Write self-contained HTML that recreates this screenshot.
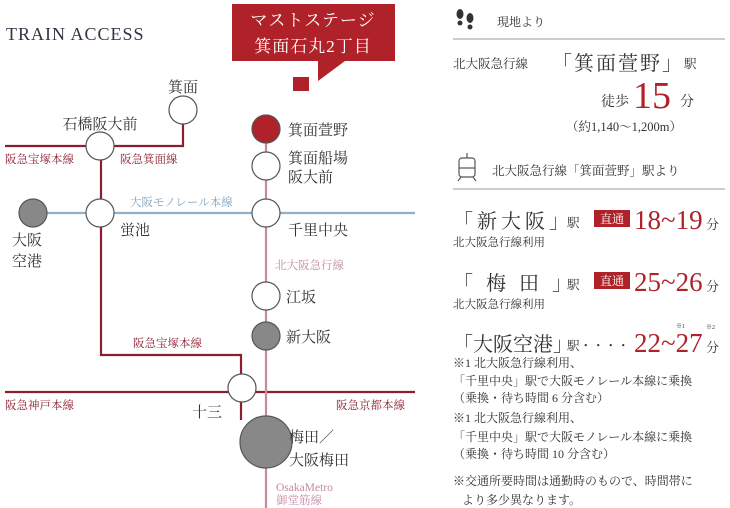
<!DOCTYPE html>
<html><head><meta charset="utf-8"><style>
html,body{margin:0;padding:0;background:#fff;}
svg{display:block;font-family:"Liberation Serif","Noto Serif CJK SC",serif;}
</style></head><body>
<svg width="730" height="508" viewBox="0 0 730 508" xmlns="http://www.w3.org/2000/svg">
<text x="6" y="40" font-size="18" fill="#334" letter-spacing="1">TRAIN ACCESS</text>
<!-- callout -->
<rect x="232" y="4" width="163" height="57" fill="#b0222a"/>
<polygon points="318,61 345,61 318,81" fill="#b0222a"/>
<rect x="293" y="77" width="16" height="14" fill="#b0222a"/>
<text x="313" y="26" font-size="17" fill="#fff" text-anchor="middle" letter-spacing="1">マストステージ</text>
<text x="313" y="52" font-size="17" fill="#fff" text-anchor="middle" letter-spacing="1">箕面石丸2丁目</text>
<!-- lines -->
<g fill="none" stroke-width="2.2">
<polyline points="5,146 183,146 183,120" stroke="#8b1f30"/>
<polyline points="101,146 101,355 241,355 241,420" stroke="#8b1f30"/>
<line x1="5" y1="392" x2="415" y2="392" stroke="#8b1f30"/>
<line x1="47" y1="213" x2="415" y2="213" stroke="#8fb0c6"/>
<line x1="266" y1="130" x2="266" y2="508" stroke="#c48aa3"/>
</g>
<g stroke="#555" stroke-width="1.2">
<circle cx="183" cy="110" r="14" fill="#fff"/>
<circle cx="100" cy="146" r="14" fill="#fff"/>
<circle cx="33" cy="213" r="14" fill="#888"/>
<circle cx="100" cy="213" r="14" fill="#fff"/>
<circle cx="266" cy="213" r="14" fill="#fff"/>
<circle cx="266" cy="129" r="14" fill="#b0222a"/>
<circle cx="266" cy="166" r="14" fill="#fff"/>
<circle cx="266" cy="296" r="14" fill="#fff"/>
<circle cx="266" cy="336" r="14" fill="#888"/>
<circle cx="242" cy="388" r="14" fill="#fff"/>
<circle cx="266" cy="442" r="26" fill="#888"/>
</g>
<g font-size="15" fill="#333">
<text x="183" y="92" text-anchor="middle">箕面</text>
<text x="100" y="129" text-anchor="middle">石橋阪大前</text>
<text x="12" y="245">大阪</text><text x="12" y="266">空港</text>
<text x="120" y="235">蛍池</text>
<text x="288" y="135">箕面萱野</text>
<text x="288" y="163">箕面船場</text><text x="288" y="182">阪大前</text>
<text x="288" y="235">千里中央</text>
<text x="286" y="302">江坂</text>
<text x="286" y="342">新大阪</text>
<text x="192" y="417">十三</text>
<text x="289" y="442">梅田／</text><text x="289" y="465">大阪梅田</text>
</g>
<g font-size="11.5" fill="#8b1f30">
<text x="5" y="163">阪急宝塚本線</text>
<text x="120" y="163">阪急箕面線</text>
<text x="133" y="347">阪急宝塚本線</text>
<text x="5" y="409">阪急神戸本線</text>
<text x="336" y="409">阪急京都本線</text>
</g>
<text x="130" y="206" font-size="11.5" fill="#7fa3bf">大阪モノレール本線</text>
<g font-size="11.5" fill="#c48aa3">
<text x="275" y="269">北大阪急行線</text>
<text x="276" y="491">OsakaMetro</text>
<text x="276" y="504">御堂筋線</text>
</g>
<!-- right panel -->
<g fill="#333">
<ellipse cx="460" cy="14" rx="3.5" ry="5"/><ellipse cx="460" cy="23" rx="2.5" ry="2.5"/>
<ellipse cx="470" cy="18" rx="3.5" ry="5"/><ellipse cx="470" cy="27" rx="2.5" ry="2.5"/>
</g>
<text x="497" y="26" font-size="12" fill="#333">現地より</text>
<line x1="453" y1="39" x2="725" y2="39" stroke="#999" stroke-width="1"/>
<text x="453" y="68" font-size="12.5" fill="#333">北大阪急行線</text>
<text x="552" y="70" font-size="20" fill="#333" letter-spacing="2">「箕面萱野」</text>
<text x="684" y="68" font-size="12.5" fill="#333">駅</text>
<text x="601" y="106" font-size="14" fill="#333">徒歩</text>
<text x="633" y="108" font-size="38" fill="#b0222a">15</text>
<text x="680" y="106" font-size="14" fill="#333">分</text>
<text x="566" y="131" font-size="12.5" fill="#333">（約1,140～1,200m）</text>
<g fill="none" stroke="#555" stroke-width="1.2">
<rect x="459" y="158" width="16" height="19" rx="3"/><line x1="459" y1="168" x2="475" y2="168"/>
<line x1="467" y1="153" x2="467" y2="158"/><line x1="461" y1="177" x2="458" y2="181"/><line x1="473" y1="177" x2="476" y2="181"/>
</g>
<text x="492" y="175" font-size="12.5" fill="#333">北大阪急行線「箕面萱野」駅より</text>
<line x1="453" y1="189" x2="725" y2="189" stroke="#999" stroke-width="1"/>
<g fill="#333">
<text x="453" y="228" font-size="20" letter-spacing="4">「新大阪」</text>
<text x="567" y="227" font-size="12.5">駅</text>
<text x="453" y="290" font-size="20" letter-spacing="4">「 梅 田 」</text>
<text x="567" y="289" font-size="12.5">駅</text>
<text x="453" y="351" font-size="20">「大阪空港」</text>
<text x="567" y="350" font-size="12.5">駅・・・・</text>
<text x="453" y="246" font-size="11.5">北大阪急行線利用</text>
<text x="453" y="308" font-size="11.5">北大阪急行線利用</text>
<text x="706" y="229" font-size="13">分</text>
<text x="706" y="291" font-size="13">分</text>
<text x="706" y="352" font-size="13">分</text>
<text x="676" y="328" font-size="6">※1</text>
<text x="706" y="329" font-size="6">※2</text>
</g>
<rect x="594" y="210" width="36" height="17" fill="#b0222a"/>
<text x="612" y="223" font-size="12" fill="#fff" text-anchor="middle">直通</text>
<rect x="594" y="272" width="36" height="17" fill="#b0222a"/>
<text x="612" y="285" font-size="12" fill="#fff" text-anchor="middle">直通</text>
<g fill="#b0222a" font-size="27">
<text x="634" y="229">18~19</text>
<text x="634" y="291">25~26</text>
<text x="634" y="352">22~27</text>
</g>
<g font-size="12" fill="#333">
<text x="453" y="367">※1 北大阪急行線利用、</text>
<text x="453" y="385">「千里中央」駅で大阪モノレール本線に乗換</text>
<text x="453" y="402">（乗換・待ち時間 6 分含む）</text>
<text x="453" y="422">※1 北大阪急行線利用、</text>
<text x="453" y="441">「千里中央」駅で大阪モノレール本線に乗換</text>
<text x="453" y="458">（乗換・待ち時間 10 分含む）</text>
<text x="453" y="485">※交通所要時間は通勤時のもので、時間帯に</text>
<text x="462" y="504">より多少異なります。</text>
</g>
</svg>
</body></html>
